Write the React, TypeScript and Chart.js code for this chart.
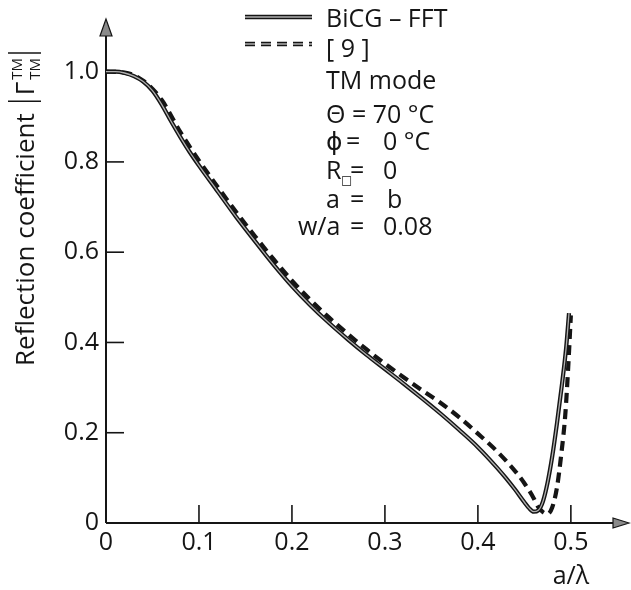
import React, { useEffect, useRef } from "react";
import { Chart, registerables } from "chart.js";

Chart.register(...registerables);

const FONT = '"Open Sans", "DejaVu Sans", sans-serif';
const INK = "#151515";

// ---- data ----
const seriesNames = ["BiCG – FFT", "[ 9 ]"];

const bicgX = [0, 0.01, 0.02, 0.03, 0.04, 0.05, 0.06, 0.07, 0.08, 0.09, 0.1, 0.12, 0.14, 0.16, 0.18, 0.2, 0.22, 0.24, 0.26, 0.28, 0.3, 0.32, 0.34, 0.36, 0.38, 0.4, 0.42, 0.43, 0.44, 0.45, 0.455, 0.46, 0.465, 0.47, 0.475, 0.48, 0.485, 0.49, 0.495, 0.498];
const bicgY = [1.0, 1.0, 0.997, 0.99, 0.978, 0.958, 0.927, 0.89, 0.855, 0.822, 0.792, 0.735, 0.678, 0.625, 0.573, 0.525, 0.482, 0.443, 0.407, 0.373, 0.341, 0.309, 0.276, 0.242, 0.206, 0.168, 0.124, 0.1, 0.074, 0.046, 0.033, 0.025, 0.028, 0.048, 0.09, 0.148, 0.22, 0.3, 0.39, 0.465];

const refX = [0, 0.02, 0.04, 0.06, 0.08, 0.1, 0.12, 0.14, 0.16, 0.18, 0.2, 0.22, 0.24, 0.26, 0.28, 0.3, 0.32, 0.34, 0.36, 0.38, 0.4, 0.42, 0.44, 0.45, 0.46, 0.465, 0.47, 0.475, 0.48, 0.485, 0.49, 0.494, 0.497, 0.5];
const refY = [1.0, 0.998, 0.98, 0.937, 0.866, 0.803, 0.745, 0.689, 0.636, 0.585, 0.537, 0.494, 0.455, 0.419, 0.385, 0.353, 0.323, 0.294, 0.266, 0.234, 0.198, 0.16, 0.115, 0.088, 0.055, 0.035, 0.024, 0.02, 0.035, 0.078, 0.158, 0.24, 0.34, 0.46];

const xTicks = [0, 0.1, 0.2, 0.3, 0.4, 0.5];
const xTickLabels = ["0", "0.1", "0.2", "0.3", "0.4", "0.5"];
const yTicks = [0, 0.2, 0.4, 0.6, 0.8, 1.0];
const yTickLabels = ["0", "0.2", "0.4", "0.6", "0.8", "1.0"];

const xAxisTitle = "a/λ";
const yAxisTitle = "Reflection coefficient";

const pts = (xs: number[], ys: number[]) => xs.map((v, i) => ({ x: v, y: ys[i] }));

const decor = {
  id: "decor",
  beforeDatasetsDraw(chart: any) {
    const { ctx, chartArea: a, scales } = chart;
    const x = scales.x, y = scales.y;
    const x0 = x.getPixelForValue(0);
    const y0 = y.getPixelForValue(0);
    ctx.save();
    ctx.strokeStyle = INK;
    ctx.lineWidth = 2;
    ctx.beginPath();
    ctx.moveTo(x0, y0);
    ctx.lineTo(x0, a.top + 12);
    ctx.stroke();
    ctx.beginPath();
    ctx.moveTo(x0, y0);
    ctx.lineTo(a.right - 6, y0);
    ctx.stroke();
    // arrows
    ctx.fillStyle = "#8a8a8a";
    ctx.lineWidth = 1.2;
    ctx.beginPath();
    ctx.moveTo(x0, a.top - 3);
    ctx.lineTo(x0 - 6, a.top + 14);
    ctx.lineTo(x0 + 6, a.top + 14);
    ctx.closePath();
    ctx.fill();
    ctx.stroke();
    ctx.beginPath();
    ctx.moveTo(a.right + 7, y0);
    ctx.lineTo(a.right - 9, y0 - 5);
    ctx.lineTo(a.right - 9, y0 + 5);
    ctx.closePath();
    ctx.fill();
    ctx.stroke();
    // tick marks (inside)
    ctx.lineWidth = 1.6;
    yTicks.forEach((v) => {
      if (v === 0) return;
      const py = y.getPixelForValue(v);
      ctx.beginPath();
      ctx.moveTo(x0, py);
      ctx.lineTo(x0 + 18, py);
      ctx.stroke();
    });
    xTicks.forEach((v) => {
      if (v === 0) return;
      const px = x.getPixelForValue(v);
      ctx.beginPath();
      ctx.moveTo(px, y0);
      ctx.lineTo(px, y0 - 18);
      ctx.stroke();
    });
    ctx.restore();
  },
  afterDraw(chart: any) {
    const { ctx, scales } = chart;
    const x = scales.x;
    ctx.save();
    ctx.fillStyle = INK;
    ctx.strokeStyle = INK;
    const f25 = `25px ${FONT}`;

    // legend samples
    const drawSample = (yy: number, dashed: boolean) => {
      ctx.save();
      ctx.lineCap = "butt";
      if (dashed) ctx.setLineDash([10, 6]);
      ctx.strokeStyle = INK;
      ctx.lineWidth = 4.5;
      ctx.beginPath();
      ctx.moveTo(245, yy);
      ctx.lineTo(312, yy);
      ctx.stroke();
      ctx.strokeStyle = "#b0b0b0";
      ctx.lineWidth = 1.4;
      ctx.beginPath();
      ctx.moveTo(245, yy);
      ctx.lineTo(312, yy);
      ctx.stroke();
      ctx.restore();
    };
    drawSample(17, false);
    drawSample(44, true);

    ctx.font = f25;
    ctx.textBaseline = "middle";
    ctx.textAlign = "left";
    ctx.fillText(seriesNames[0], 326, 20);
    ctx.fillText(seriesNames[1], 326, 50);
    ctx.fillText("TM mode", 326, 82);
    ctx.fillText("Θ = 70 °C", 326, 116);
    ctx.fillText("ϕ", 326, 143);
    ctx.fillText("=", 346, 143);
    ctx.fillText("0 °C", 383, 143);
    ctx.fillText("R", 326, 172);
    ctx.font = `12px ${FONT}`;
    ctx.fillText("□", 341, 181);
    ctx.font = f25;
    ctx.fillText("=", 350, 172);
    ctx.fillText("0", 383, 172);
    ctx.fillText("a", 326, 201);
    ctx.fillText("=", 350, 201);
    ctx.fillText("b", 387, 201);
    ctx.fillText("w/a", 298, 228);
    ctx.fillText("=", 350, 228);
    ctx.fillText("0.08", 383, 228);

    // x axis title
    ctx.textAlign = "center";
    ctx.fillText(xAxisTitle, x.getPixelForValue(0.5), 577);

    // y axis title, rotated
    ctx.save();
    ctx.translate(34, 366);
    ctx.rotate(-Math.PI / 2);
    ctx.textAlign = "left";
    ctx.textBaseline = "alphabetic";
    ctx.font = `26px ${FONT}`;
    ctx.fillText(yAxisTitle, 0, 0);
    let cx = ctx.measureText(yAxisTitle).width + 12;
    ctx.lineWidth = 1.6;
    ctx.beginPath();
    ctx.moveTo(cx, 7);
    ctx.lineTo(cx, -26);
    ctx.stroke();
    cx += 6;
    ctx.fillText("Γ", cx, 0);
    cx += ctx.measureText("Γ").width + 2;
    ctx.font = `15px ${FONT}`;
    ctx.fillText("TM", cx, -12);
    ctx.fillText("TM", cx, 6);
    cx += ctx.measureText("TM").width + 5;
    ctx.beginPath();
    ctx.moveTo(cx, 7);
    ctx.lineTo(cx, -26);
    ctx.stroke();
    ctx.restore();

    ctx.restore();
  },
};

export default function App() {
  const ref = useRef<HTMLCanvasElement | null>(null);
  useEffect(() => {
    if (!ref.current) return;
    const lineBase = {
      pointRadius: 0,
      fill: false,
      cubicInterpolationMode: "monotone" as const,
      borderCapStyle: "butt" as const,
    };
    const chart = new Chart(ref.current, {
      type: "line",
      data: {
        datasets: [
          { ...lineBase, label: seriesNames[0] + " inner", data: pts(bicgX, bicgY), borderColor: "#b0b0b0", borderWidth: 1.3, order: 0 },
          { ...lineBase, label: seriesNames[0], data: pts(bicgX, bicgY), borderColor: INK, borderWidth: 4.2, order: 1 },
          { ...lineBase, label: seriesNames[1], data: pts(refX, refY), borderColor: INK, borderWidth: 4.2, borderDash: [10, 6], order: 2 },
        ],
      },
      options: {
        responsive: false,
        animation: false,
        events: [],
        layout: { padding: { top: 10, right: 9, left: 0, bottom: 0 } },
        plugins: { legend: { display: false }, tooltip: { enabled: false } },
        scales: {
          x: {
            type: "linear",
            min: 0,
            max: 0.555,
            grid: { display: false, drawTicks: false },
            border: { display: false },
            afterBuildTicks: (s: any) => {
              s.ticks = xTicks.map((v) => ({ value: v }));
            },
            afterFit: (s: any) => {
              s.height = 67;
            },
            ticks: {
              autoSkip: false,
              maxRotation: 0,
              padding: 5,
              color: INK,
              font: { family: FONT, size: 25 },
              callback: (_v: any, i: number) => xTickLabels[i],
            },
          },
          y: {
            type: "linear",
            min: 0,
            max: 1.11,
            grid: { display: false, drawTicks: false },
            border: { display: false },
            afterBuildTicks: (s: any) => {
              s.ticks = yTicks.map((v) => ({ value: v }));
            },
            afterFit: (s: any) => {
              s.width = 106;
            },
            ticks: {
              autoSkip: false,
              padding: 7,
              color: INK,
              font: { family: FONT, size: 25 },
              callback: (_v: any, i: number) => yTickLabels[i],
            },
          },
        },
      },
      plugins: [decor],
    });
    return () => chart.destroy();
  }, []);
  return (
    <div style={{ position: "absolute", left: 0, top: 0, width: 631, height: 590, background: "#fff" }}>
      <canvas ref={ref} width={631} height={590} style={{ display: "block" }} />
    </div>
  );
}
